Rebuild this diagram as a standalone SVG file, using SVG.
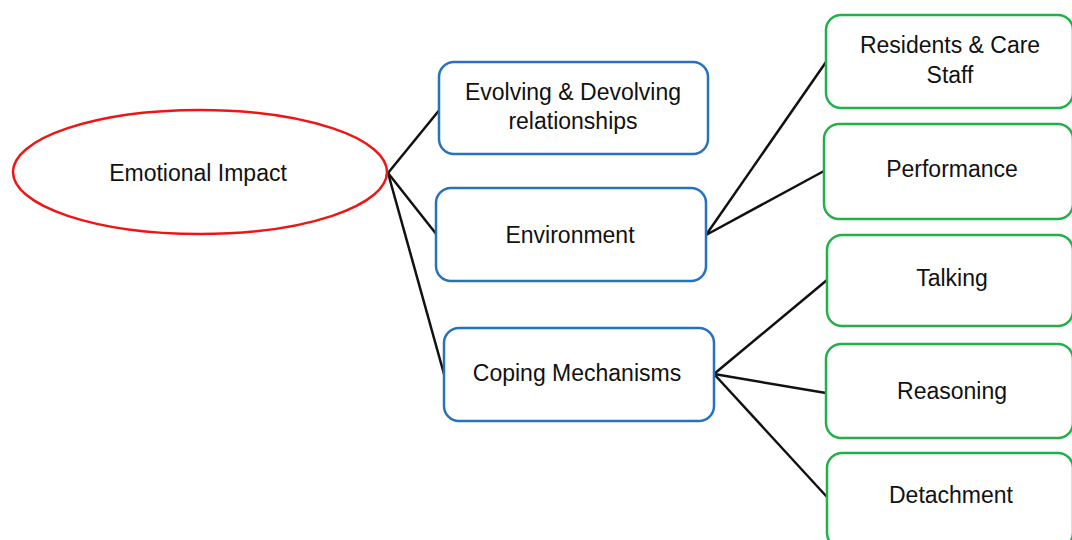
<svg xmlns="http://www.w3.org/2000/svg" width="1072" height="540" viewBox="0 0 1072 540">
<style>
.t{font-family:"Liberation Sans",Arial,sans-serif;font-size:23px;fill:#111;text-anchor:middle}
.blue{fill:#fff;stroke:#2672be;stroke-width:2.5}
.green{fill:#fff;stroke:#22b04a;stroke-width:2.5}
.red{fill:#fff;stroke:#f01515;stroke-width:2.5}
.c{stroke:#111;stroke-width:2.5;fill:none}
</style>
<rect width="1072" height="540" fill="#fff"/>
<g id="connectors">
<line class="c" x1="388" y1="173" x2="441" y2="108"/>
<line class="c" x1="388" y1="173" x2="437" y2="235"/>
<line class="c" x1="388" y1="173" x2="444" y2="374"/>
<line class="c" x1="706" y1="235" x2="826" y2="62"/>
<line class="c" x1="706" y1="235" x2="824" y2="171"/>
<line class="c" x1="714" y1="374" x2="827" y2="280"/>
<line class="c" x1="714" y1="374" x2="826" y2="393"/>
<line class="c" x1="714" y1="374" x2="827" y2="497"/>
</g>
<g id="emotional-impact">
<ellipse class="red" cx="200" cy="172" rx="187" ry="62"/>
<text class="t" x="198" y="181">Emotional Impact</text>
</g>
<g id="evolving">
<rect class="blue" x="439" y="62" width="269" height="92" rx="15"/>
<text class="t" x="573" y="100">Evolving &amp; Devolving</text>
<text class="t" x="573" y="129">relationships</text>
</g>
<g id="environment">
<rect class="blue" x="436" y="188" width="270" height="93" rx="15"/>
<text class="t" x="570" y="243">Environment</text>
</g>
<g id="coping">
<rect class="blue" x="444" y="328" width="270" height="93" rx="15"/>
<text class="t" x="577" y="381">Coping Mechanisms</text>
</g>
<g id="residents">
<rect class="green" x="826" y="15" width="247" height="93" rx="15"/>
<text class="t" x="950" y="53">Residents &amp; Care</text>
<text class="t" x="950" y="83">Staff</text>
</g>
<g id="performance">
<rect class="green" x="824" y="124" width="249" height="95" rx="15"/>
<text class="t" x="952" y="177">Performance</text>
</g>
<g id="talking">
<rect class="green" x="827" y="235" width="246" height="91" rx="15"/>
<text class="t" x="952" y="286">Talking</text>
</g>
<g id="reasoning">
<rect class="green" x="826" y="344" width="247" height="94" rx="15"/>
<text class="t" x="952" y="399">Reasoning</text>
</g>
<g id="detachment">
<rect class="green" x="827" y="453" width="246" height="95" rx="15"/>
<text class="t" x="951" y="503">Detachment</text>
</g>
</svg>
